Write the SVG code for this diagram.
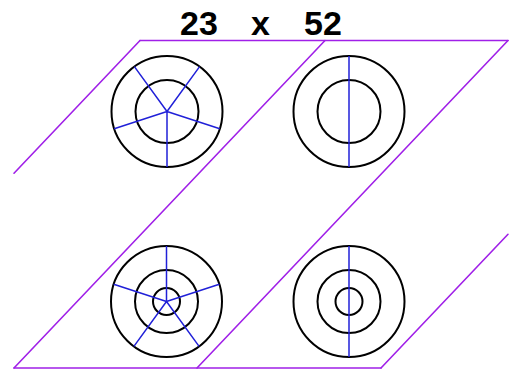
<svg xmlns="http://www.w3.org/2000/svg" width="510" height="370" viewBox="0 0 510 370">
<style>
.ring{fill:none;stroke:#000;stroke-width:2}
.spoke{stroke:#2020d8;stroke-width:1.5;fill:none}
.frame{stroke:#a020e8;stroke-width:1.6;fill:none;stroke-linecap:round}
.lbl{font-family:"Liberation Sans",Arial,sans-serif;font-weight:bold;font-size:34px;fill:#000}
</style>
<rect width="510" height="370" fill="#fff"/>
<g id="connectors" class="frame">
<line x1="140" y1="40.5" x2="508" y2="40.5"/>
<line x1="14" y1="368" x2="381" y2="368"/>
<line x1="140" y1="40.5" x2="14" y2="173.2"/>
<line x1="325" y1="40.5" x2="14" y2="368"/>
<line x1="508" y1="40.5" x2="197" y2="368"/>
<line x1="508" y1="234.3" x2="381" y2="368"/>
</g>
<g id="title">
<text class="lbl" y="35"><tspan x="180">23</tspan><tspan x="251">x</tspan><tspan x="304">52</tspan></text>
</g>
<g id="node-top-left">
<circle class="ring" cx="167" cy="111.5" r="55.5"/>
<circle class="ring" cx="167" cy="111.5" r="31.5"/>
<path class="spoke" d="M167 111.5L167 167M167 111.5L219.8 128.7M167 111.5L114.2 128.7M167 111.5L199.6 66.6M167 111.5L134.4 66.6"/>
</g>
<g id="node-top-right">
<circle class="ring" cx="349" cy="111.5" r="55.5"/>
<circle class="ring" cx="349" cy="111.5" r="31.5"/>
<line class="spoke" x1="349" y1="56" x2="349" y2="167"/>
</g>
<g id="node-bottom-left">
<circle class="ring" cx="166.5" cy="301.5" r="55.5"/>
<circle class="ring" cx="166.5" cy="301.5" r="31.5"/>
<circle class="ring" cx="166.5" cy="301.5" r="13.5"/>
<path class="spoke" d="M166.5 301.5L166.5 246M166.5 301.5L219.3 284.3M166.5 301.5L113.7 284.3M166.5 301.5L199.1 346.4M166.5 301.5L133.9 346.4"/>
</g>
<g id="node-bottom-right">
<circle class="ring" cx="349" cy="301.5" r="55.5"/>
<circle class="ring" cx="349" cy="301.5" r="31.5"/>
<circle class="ring" cx="349" cy="301.5" r="13.5"/>
<line class="spoke" x1="349" y1="246" x2="349" y2="357"/>
</g>
</svg>
